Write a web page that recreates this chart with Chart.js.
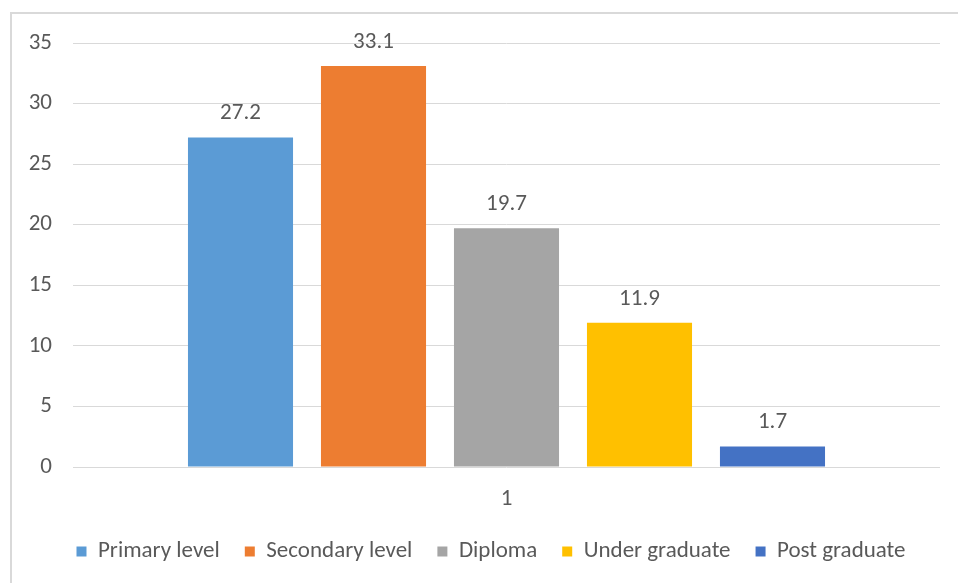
<!DOCTYPE html>
<html>
<head>
<meta charset="utf-8">
<script src="https://cdn.jsdelivr.net/npm/chart.js@4/dist/chart.umd.min.js"></script>
<style>
  html, body { margin: 0; padding: 0; background: #fff; }
  #wrap { position: relative; width: 958px; height: 583px; }
  #frame { position: absolute; left: 10px; top: 12px; right: 0; bottom: 0;
           border-left: 2px solid #d9d9d9; border-top: 2px solid #d9d9d9; }
  canvas { position: absolute; left: 0; top: 0; }
</style>
</head>
<body>
<div id="wrap">
  <div id="frame"></div>
  <canvas id="eduChart" width="958" height="583"></canvas>
</div>
<script>
// education level shares (%)
var categories = ['1'];
var seriesNames = ['Primary level', 'Secondary level', 'Diploma', 'Under graduate', 'Post graduate'];
var seriesValues = [[27.2], [33.1], [19.7], [11.9], [1.7]];
var seriesColors = ['#5b9bd5', '#ed7d31', '#a5a5a5', '#ffc000', '#4472c4'];
var yTicks = [0, 5, 10, 15, 20, 25, 30, 35];

var FONT = "Carlito, Calibri, 'Liberation Sans', sans-serif";
var FONT_SIZE = 23;
var TEXT = '#595959';
var GRID = '#d9d9d9';

// writes the value above each bar
var valueLabels = {
    id: 'valueLabels',
    afterDatasetsDraw: function (chart) {
        var ctx = chart.ctx;
        ctx.save();
        ctx.font = FONT_SIZE + 'px ' + FONT;
        ctx.fillStyle = TEXT;
        ctx.textAlign = 'center';
        ctx.textBaseline = 'middle';
        chart.data.datasets.forEach(function (ds, i) {
            chart.getDatasetMeta(i).data.forEach(function (bar, j) {
                ctx.fillText(ds.data[j].toFixed(1), bar.x, bar.y - 24);
            });
        });
        ctx.restore();
    }
};

// centre the legend under the plot area instead of the whole canvas
var legendShift = {
    id: 'legendShift',
    afterLayout: function (chart) {
        var lg = chart.legend;
        if (!lg) return;
        lg.left += 16;
        lg.right += 16;
    }
};

var datasets = seriesNames.map(function (name, i) {
    return {
        label: name,
        data: seriesValues[i],
        backgroundColor: seriesColors[i],
        borderWidth: 0
    };
});

var ctx = document.getElementById('eduChart').getContext('2d');
var eduChart = new Chart(ctx, {
    type: 'bar',
    data: { labels: categories, datasets: datasets },
    options: {
        responsive: false,
        animation: false,
        layout: { padding: { left: 10, top: 43, right: 18, bottom: 10 } },
        datasets: {
            bar: { categoryPercentage: 0.767, barPercentage: 0.79 }
        },
        scales: {
            x: {
                grid: { display: false },
                border: { display: false },
                ticks: { color: TEXT, font: { family: FONT, size: FONT_SIZE }, padding: 10 },
                afterFit: function (scale) { scale.height = 48; }
            },
            y: {
                min: 0,
                max: 35,
                afterBuildTicks: function (scale) {
                    scale.ticks = yTicks.map(function (v) { return { value: v }; });
                },
                grid: { color: GRID, lineWidth: 1, drawTicks: false },
                border: { display: false },
                ticks: { color: TEXT, font: { family: FONT, size: FONT_SIZE }, padding: 21 },
                afterFit: function (scale) { scale.width = 63; }
            }
        },
        plugins: {
            legend: {
                position: 'bottom',
                labels: {
                    color: TEXT,
                    font: { family: FONT, size: FONT_SIZE },
                    boxWidth: 10,
                    boxHeight: 10,
                    padding: 25
                }
            },
            tooltip: { enabled: false }
        }
    },
    plugins: [valueLabels, legendShift]
});
</script>
</body>
</html>
